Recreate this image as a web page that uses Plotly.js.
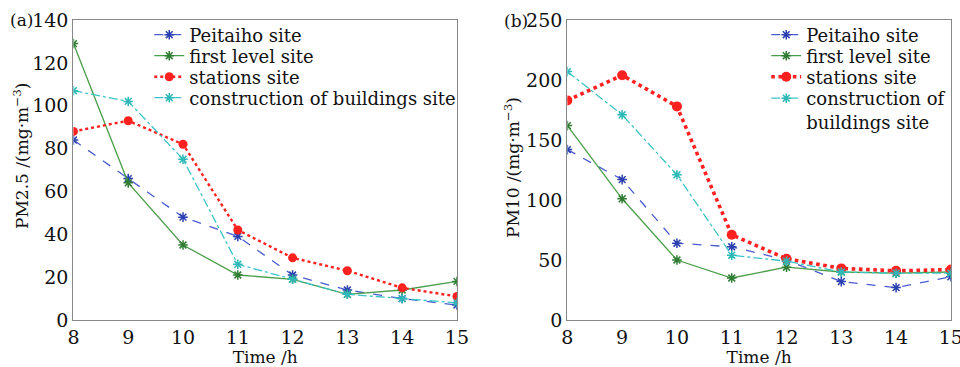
<!DOCTYPE html>
<html><head><meta charset="utf-8">
<script src="https://cdn.plot.ly/plotly-3.0.1.min.js"></script>
<style>body{margin:0;background:#fff}#c{width:960px;height:367px}</style>
</head><body><div id="c"></div>
<script>
const hours = [8, 9, 10, 11, 12, 13, 14, 15];
const seriesNames = ["Peitaiho site", "first level site", "stations site", "construction of buildings site"];
const seriesNamesB = ["Peitaiho site", "first level site", "stations site", "construction of<br>buildings site"];
// PM2.5 (a)
const pm25_peitaiho = [84, 66, 48, 39, 21, 14, 10, 7];
const pm25_first = [129, 64, 35, 21, 19, 12, 14, 18];
const pm25_stations = [88, 93, 82, 42, 29, 23, 15, 11];
const pm25_construction = [107, 102, 75, 26, 19, 12, 10, 8];
// PM10 (b)
const pm10_peitaiho = [142, 117, 64, 61, 50, 32, 27, 36];
const pm10_first = [162, 101, 50, 35, 44, 40, 39, 40];
const pm10_stations = [183, 204, 178, 71, 51, 43, 41, 42];
const pm10_construction = [207, 171, 121, 54, 49, 40, 39, 39];
const yTicksA = [0, 20, 40, 60, 80, 100, 120, 140];
const yTicksB = [0, 50, 100, 150, 200, 250];

const FONT = "DejaVu Serif";
const T = 20, PH = 300; // plot area top & height in px
const py = p => 1 - (p - T) / PH; // pixel row -> paper y
const styles = [
  {line:{color:"#4a5bd0", dash:"dash", width:1.3}, marker:{symbol:"asterisk-open", size:8, color:"#2a3fb0", line:{color:"#2a3fb0", width:1.5}}},
  {line:{color:"#4c9e4c", dash:"solid", width:1.3}, marker:{symbol:"asterisk-open", size:8, color:"#2e7d32", line:{color:"#2e7d32", width:1.5}}},
  {line:{color:"#ff2020", dash:"dot", width:2.4}, marker:{symbol:"circle", size:9, color:"#ff2020"}},
  {line:{color:"#3cc4c4", dash:"dashdot", width:1.3}, marker:{symbol:"asterisk-open", size:8, color:"#2fb8b8", line:{color:"#2fb8b8", width:1.5}}}
];
const dataA = [pm25_peitaiho, pm25_first, pm25_stations, pm25_construction];
const dataB = [pm10_peitaiho, pm10_first, pm10_stations, pm10_construction];
const traces = [];
const legName = k => k === 1 ? "legend" : "legend" + k;
dataA.forEach((ys, i) => traces.push({x: hours, y: ys, name: seriesNames[i], mode: "lines+markers",
  line: styles[i].line, marker: styles[i].marker, xaxis: "x", yaxis: "y", legend: legName(i + 1)}));
dataB.forEach((ys, i) => {
  const ln = Object.assign({}, styles[i].line);
  const mk = Object.assign({}, styles[i].marker);
  if (i === 2) { ln.width = 3.6; mk.size = 10; }
  traces.push({x: hours, y: ys, name: seriesNamesB[i], mode: "lines+markers",
  line: ln, marker: mk, xaxis: "x2", yaxis: "y2", legend: legName(i + 5)});
});

const axBase = {showgrid:false, zeroline:false, showline:true, mirror:true, linecolor:"#888", linewidth:1.2,
  ticks:"", ticklabeloverflow:"allow", tickfont:{family:FONT, size:19, color:"#111"}};
const layout = {
  width:960, height:367, margin:{l:0, r:0, t:T, b:367 - T - PH},
  paper_bgcolor:"#fff", plot_bgcolor:"#fff",
  font:{family:FONT, color:"#111"},
  xaxis: Object.assign({}, axBase, {domain:[0.0765, 0.476], range:[8,15], tickvals:hours, anchor:"y",
    title:{text:"Time /h", font:{family:FONT, size:17}, standoff:0}}),
  yaxis: Object.assign({}, axBase, {domain:[0,1], range:[0,140], tickvals:yTicksA, anchor:"x"}),
  xaxis2: Object.assign({}, axBase, {domain:[0.591, 0.9905], range:[8,15], tickvals:hours, anchor:"y2",
    title:{text:"Time /h", font:{family:FONT, size:17}, standoff:0}}),
  yaxis2: Object.assign({}, axBase, {domain:[0,1], range:[0,250], tickvals:yTicksB, anchor:"x2"}),
  annotations: [
    {text:"(a)", x:8/960, y:py(20), xref:"paper", yref:"paper", xanchor:"left", yanchor:"middle", showarrow:false, font:{family:FONT, size:17}},
    {text:"(b)", x:502/960, y:py(21), xref:"paper", yref:"paper", xanchor:"left", yanchor:"middle", showarrow:false, font:{family:FONT, size:17}},
    {text:"PM2.5 /(mg·m<sup>−3</sup>)", textangle:-90, x:21/960, y:py(156), xref:"paper", yref:"paper", xanchor:"center", yanchor:"middle", showarrow:false, font:{family:FONT, size:17}},
    {text:"PM10 /(mg·m<sup>−3</sup>)", textangle:-90, x:512/960, y:py(168), xref:"paper", yref:"paper", xanchor:"center", yanchor:"middle", showarrow:false, font:{family:FONT, size:17}}
  ],
  showlegend:true
};
const rowsY = [35, 56, 77, 98];
for (let k = 0; k < 8; k++) {
  const right = k >= 4;
  const r = k % 4;
  const lg = {x: right ? 772/960 - 0.006 : 155/960 - 0.006, y: py(rowsY[r]), xanchor:"left", yanchor:"middle",
    bgcolor:"rgba(0,0,0,0)", font:{family:FONT, size:18}, itemwidth:30, borderwidth:0};
  if (right && r === 3) { lg.valign = "top"; lg.yanchor = "top"; lg.y = py(rowsY[r] - 18); }
  layout[legName(k + 1)] = lg;
}
Plotly.newPlot("c", traces, layout, {staticPlot:true});
</script></body></html>
